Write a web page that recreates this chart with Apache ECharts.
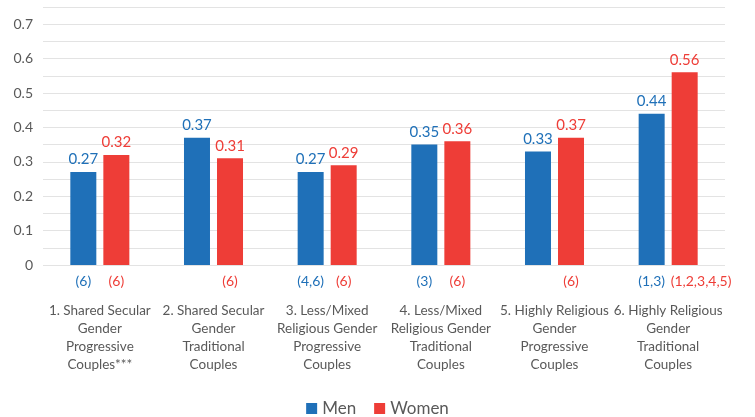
<!DOCTYPE html>
<html>
<head>
<meta charset="utf-8">
<script src="https://cdn.jsdelivr.net/npm/echarts@6/dist/echarts.min.js"></script>
<style>
  html, body { margin: 0; padding: 0; background: #fff; }
  #chart { width: 755px; height: 417px; }
</style>
</head>
<body>
<div id="chart"></div>
<script>
// Couple types (x-axis categories)
const categories = [
  '1. Shared Secular\nGender\nProgressive\nCouples***',
  '2. Shared Secular\nGender\nTraditional\nCouples',
  '3. Less/Mixed\nReligious Gender\nProgressive\nCouples',
  '4. Less/Mixed\nReligious Gender\nTraditional\nCouples',
  '5. Highly Religious\nGender\nProgressive\nCouples',
  '6. Highly Religious\nGender\nTraditional\nCouples'
];

// Mean values by sex
const menValues = [0.27, 0.37, 0.27, 0.35, 0.33, 0.44];
const womenValues = [0.32, 0.31, 0.29, 0.36, 0.37, 0.56];

// Groups each value differs significantly from
const menSig = ['(6)', '', '(4,6)', '(3)', '', '(1,3)'];
const womenSig = ['(6)', '(6)', '(6)', '(6)', '(6)', '(1,2,3,4,5)'];

const BLUE = '#1f70b8';
const RED = '#ee3d37';
const FONT = 'Lato';
const BAR_W = 26;

// Zero-height bars stacked under each series carry the significance notes;
// long notes start at the bar's left edge and run to the right
function sigSeries(stack, notes, color) {
  return {
    type: 'bar',
    stack: stack,
    barWidth: BAR_W,
    barGap: '27%',
    data: notes.map(n => {
      const item = { value: 0 };
      if (n.length > 6) {
        item.label = { align: 'left', offset: [-BAR_W / 2 - 1, 0] };
      }
      return item;
    }),
    itemStyle: { color: 'transparent' },
    label: {
      show: true,
      position: 'bottom',
      distance: 9,
      color: color,
      fontFamily: FONT,
      fontSize: 14,
      formatter: p => notes[p.dataIndex]
    },
    silent: true
  };
}

function valueSeries(name, stack, values, color) {
  return {
    name: name,
    type: 'bar',
    stack: stack,
    barWidth: BAR_W,
    barGap: '27%',
    data: values,
    itemStyle: { color: color },
    label: {
      show: true,
      position: 'top',
      distance: 5,
      color: color,
      fontFamily: FONT,
      fontSize: 15,
      formatter: p => p.value.toFixed(2)
    }
  };
}

const chart = echarts.init(document.getElementById('chart'), null, { renderer: 'canvas' });
chart.setOption({
  animation: false,
  textStyle: { fontFamily: FONT },
  grid: { left: 43, right: 30, top: 7, bottom: 152 },
  legend: {
    data: ['Men', 'Women'],
    top: 395,
    left: 'center',
    icon: 'rect',
    itemWidth: 11,
    itemHeight: 11,
    itemGap: 18,
    textStyle: { color: '#595959', fontSize: 17, fontFamily: FONT }
  },
  xAxis: {
    type: 'category',
    data: categories,
    axisLine: { show: false },
    axisTick: { show: false },
    axisLabel: {
      interval: 0,
      margin: 37,
      color: '#595959',
      fontSize: 13.5,
      lineHeight: 18,
      fontFamily: FONT
    }
  },
  yAxis: {
    type: 'value',
    min: 0,
    max: 0.75,
    interval: 0.05,
    axisLine: { show: false },
    axisTick: { show: false },
    splitLine: { lineStyle: { color: '#e3e3e3', width: 1 } },
    axisLabel: {
      margin: 10,
      color: '#595959',
      fontSize: 14,
      fontFamily: FONT,
      formatter: v => {
        const h = Math.round(v * 100);
        if (h % 10 !== 0 || h > 70) return '';
        return h === 0 ? '0' : (h / 100).toFixed(1);
      }
    }
  },
  series: [
    sigSeries('men', menSig, BLUE),
    sigSeries('women', womenSig, RED),
    valueSeries('Men', 'men', menValues, BLUE),
    valueSeries('Women', 'women', womenValues, RED)
  ]
});
</script>
</body>
</html>
